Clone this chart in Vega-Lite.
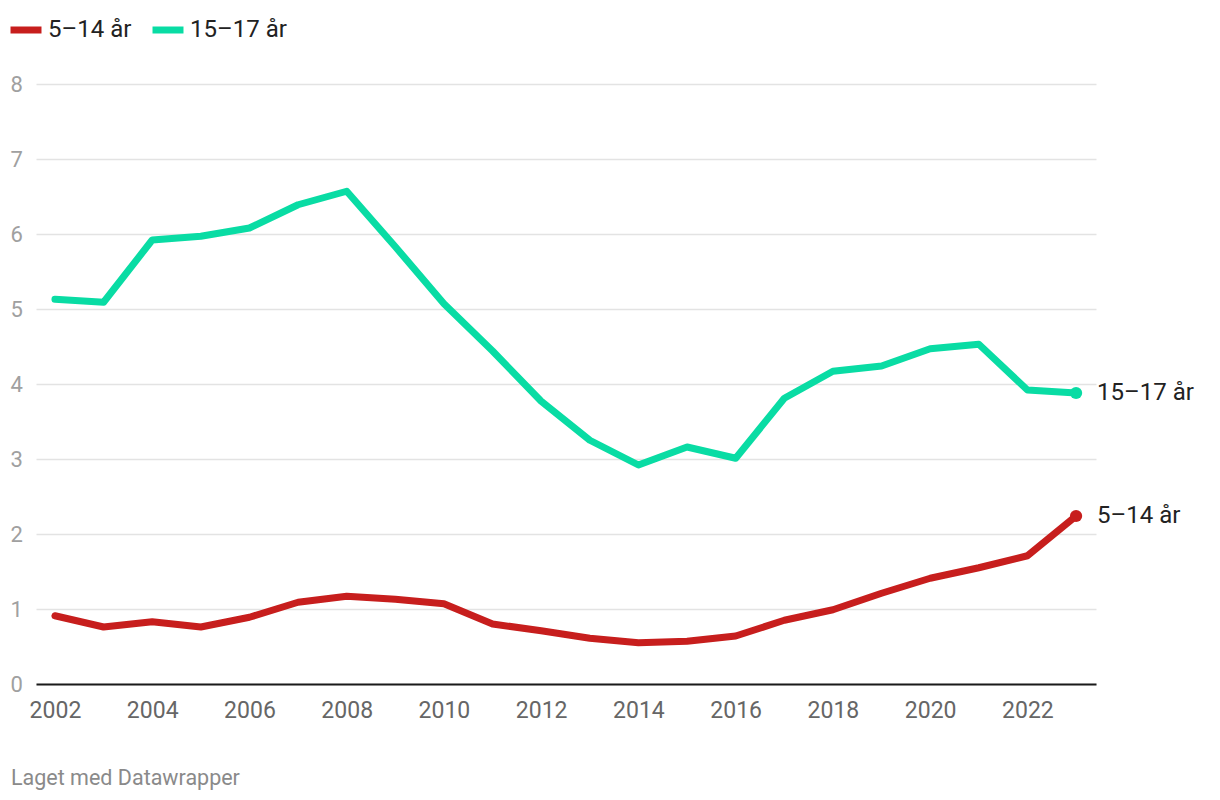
{
  "$schema": "https://vega.github.io/schema/vega-lite/v6.json",
  "autosize": "none",
  "width": 1060,
  "height": 600,
  "padding": {"left": 36, "top": 84, "right": 124, "bottom": 116},
  "background": "white",
  "config": {
    "font": "Roboto",
    "view": {"stroke": null}
  },
  "title": {
    "text": "Laget med Datawrapper",
    "orient": "bottom",
    "anchor": "start",
    "frame": "group",
    "dx": -25,
    "offset": 46,
    "fontSize": 21.5,
    "fontWeight": "normal",
    "color": "#8a8a8a"
  },
  "data": {
    "values": [
      {"year": 2002, "group": "5–14 år", "value": 0.91},
      {"year": 2003, "group": "5–14 år", "value": 0.76},
      {"year": 2004, "group": "5–14 år", "value": 0.83},
      {"year": 2005, "group": "5–14 år", "value": 0.76},
      {"year": 2006, "group": "5–14 år", "value": 0.89},
      {"year": 2007, "group": "5–14 år", "value": 1.09},
      {"year": 2008, "group": "5–14 år", "value": 1.17},
      {"year": 2009, "group": "5–14 år", "value": 1.13},
      {"year": 2010, "group": "5–14 år", "value": 1.07},
      {"year": 2011, "group": "5–14 år", "value": 0.80},
      {"year": 2012, "group": "5–14 år", "value": 0.71},
      {"year": 2013, "group": "5–14 år", "value": 0.61},
      {"year": 2014, "group": "5–14 år", "value": 0.55},
      {"year": 2015, "group": "5–14 år", "value": 0.57},
      {"year": 2016, "group": "5–14 år", "value": 0.64},
      {"year": 2017, "group": "5–14 år", "value": 0.85},
      {"year": 2018, "group": "5–14 år", "value": 0.99},
      {"year": 2019, "group": "5–14 år", "value": 1.21},
      {"year": 2020, "group": "5–14 år", "value": 1.41},
      {"year": 2021, "group": "5–14 år", "value": 1.55},
      {"year": 2022, "group": "5–14 år", "value": 1.71},
      {"year": 2023, "group": "5–14 år", "value": 2.24},
      {"year": 2002, "group": "15–17 år", "value": 5.13},
      {"year": 2003, "group": "15–17 år", "value": 5.09},
      {"year": 2004, "group": "15–17 år", "value": 5.92},
      {"year": 2005, "group": "15–17 år", "value": 5.97},
      {"year": 2006, "group": "15–17 år", "value": 6.08},
      {"year": 2007, "group": "15–17 år", "value": 6.39},
      {"year": 2008, "group": "15–17 år", "value": 6.57},
      {"year": 2009, "group": "15–17 år", "value": 5.83},
      {"year": 2010, "group": "15–17 år", "value": 5.07},
      {"year": 2011, "group": "15–17 år", "value": 4.44},
      {"year": 2012, "group": "15–17 år", "value": 3.77},
      {"year": 2013, "group": "15–17 år", "value": 3.25},
      {"year": 2014, "group": "15–17 år", "value": 2.92},
      {"year": 2015, "group": "15–17 år", "value": 3.16},
      {"year": 2016, "group": "15–17 år", "value": 3.01},
      {"year": 2017, "group": "15–17 år", "value": 3.81},
      {"year": 2018, "group": "15–17 år", "value": 4.17},
      {"year": 2019, "group": "15–17 år", "value": 4.24},
      {"year": 2020, "group": "15–17 år", "value": 4.47},
      {"year": 2021, "group": "15–17 år", "value": 4.53},
      {"year": 2022, "group": "15–17 år", "value": 3.92},
      {"year": 2023, "group": "15–17 år", "value": 3.88}
    ]
  },
  "encoding": {
    "x": {
      "field": "year",
      "type": "quantitative",
      "scale": {"domain": [2001.61, 2023.41], "nice": false, "zero": false},
      "axis": {
        "title": null,
        "values": [2002, 2004, 2006, 2008, 2010, 2012, 2014, 2016, 2018, 2020, 2022],
        "format": "d",
        "grid": false,
        "ticks": false,
        "domain": true,
        "domainColor": "#1a1a1a",
        "domainWidth": 2,
        "labelFontSize": 23,
        "labelColor": "#666666",
        "labelPadding": 15,
        "labelFlush": false
      }
    },
    "y": {
      "field": "value",
      "type": "quantitative",
      "scale": {"domain": [0, 8], "nice": false},
      "axis": {
        "title": null,
        "values": [0, 1, 2, 3, 4, 5, 6, 7, 8],
        "grid": true,
        "gridColor": "#e3e3e3",
        "gridWidth": 1.5,
        "domain": false,
        "ticks": false,
        "labelAlign": "left",
        "labelPadding": 26,
        "labelFontSize": 22,
        "labelColor": "#a0a0a0",
        "labelBaseline": "middle"
      }
    },
    "color": {
      "field": "group",
      "type": "nominal",
      "scale": {"domain": ["5–14 år", "15–17 år"], "range": ["#c71e1d", "#09dca4"]},
      "legend": {
        "title": null,
        "orient": "none",
        "legendX": -29,
        "legendY": -73,
        "direction": "horizontal",
        "symbolType": "stroke",
        "symbolSize": 960,
        "symbolStrokeWidth": 7,
        "labelFontSize": 24,
        "labelColor": "#222222",
        "labelOffset": 3,
        "columnPadding": 6
      }
    }
  },
  "layer": [
    {
      "mark": {"type": "line", "strokeWidth": 7, "strokeCap": "round", "strokeJoin": "round"}
    },
    {
      "transform": [{"filter": "datum.year == 2023"}],
      "mark": {"type": "point", "filled": true, "size": 150, "opacity": 1},
      "encoding": {"shape": {"value": "circle"}}
    },
    {
      "transform": [{"filter": "datum.year == 2023"}],
      "mark": {"type": "text", "align": "left", "baseline": "middle", "dx": 21, "fontSize": 24},
      "encoding": {
        "text": {"field": "group"},
        "color": {"value": "#222222"}
      }
    }
  ]
}
